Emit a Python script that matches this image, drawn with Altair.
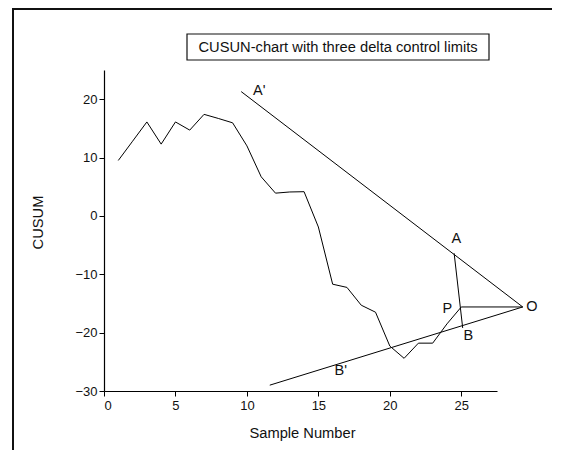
import altair as alt
import pandas as pd

# ---- data ----
sample = list(range(1, 26))
cusum = [9.5, 12.8, 16.1, 12.3, 16.1, 14.7, 17.4, 16.7, 15.95, 12.0,
         6.7, 3.9, 4.1, 4.15, -1.9, -11.7, -12.25, -15.3, -16.5, -22.3,
         -24.4, -21.8, -21.8, -18.5, -15.6]

# V-mask segments (start / end points)
seg_names = ["upper", "lower", "PO", "AB"]
seg_x1 = [9.6, 11.6, 25.0, 24.5]
seg_y1 = [21.3, -29.0, -15.6, -6.4]
seg_x2 = [29.3, 29.3, 29.3, 25.1]
seg_y2 = [-15.6, -15.6, -15.6, -19.2]

# point labels
lab_text = ["A'", "A", "B", "P", "O", "B'"]
lab_x = [10.86, 24.65, 25.5, 24.03, 29.95, 16.57]
lab_y = [21.4, -3.98, -20.5, -15.95, -15.6, -26.6]

x_ticks = [0, 2.5, 5, 7.5, 10, 12.5, 15, 17.5, 20, 22.5, 25, 27.5]
y_ticks = [-30, -25, -20, -15, -10, -5, 0, 5, 10, 15, 20, 25]

title_text = "CUSUN-chart with three delta control limits"
x_title = "Sample Number"
y_title = "CUSUM"

FONT = "Liberation Sans"

df_line = pd.DataFrame({"x": sample, "y": cusum})
rows = []
for n, a, b, c, d in zip(seg_names, seg_x1, seg_y1, seg_x2, seg_y2):
    rows.append({"seg": n, "x": a, "y": b, "o": 0})
    rows.append({"seg": n, "x": c, "y": d, "o": 1})
df_seg = pd.DataFrame(rows)
df_lab = pd.DataFrame({"t": lab_text, "x": lab_x, "y": lab_y})
one = pd.DataFrame({"a": [0]})

xscale = alt.Scale(domain=[0, 27.5], nice=False, zero=False)
yscale = alt.Scale(domain=[-30, 25], nice=False, zero=False)

xaxis = alt.Axis(
    values=x_ticks, grid=False, title=x_title,
    labelExpr="datum.value % 5 === 0 ? datum.label : ''",
    tickSize={"condition": {"test": "datum.value % 5 === 0", "value": 5}, "value": 3},
    labelPadding=3, titleX=198, titleY=42, titleBaseline="middle", titleAlign="center",
)
yaxis = alt.Axis(
    values=y_ticks, grid=False, title=y_title,
    labelExpr="datum.value % 10 === 0 ? datum.label : ''",
    tickSize={"condition": {"test": "datum.value % 10 === 0", "value": 5}, "value": 3},
    labelPadding=2, titleX=-66, titleY=152, titleBaseline="middle", titleAlign="center",
    titleAngle=-90,
)

# outer frame: only its top and left edges fall inside the picture (thin filled bars)
frame_top = alt.Chart(one).mark_rect(fill="#111", strokeWidth=0).encode(
    x=alt.value(-92), x2=alt.value(448), y=alt.value(-62), y2=alt.value(-60)
)
frame_left = alt.Chart(one).mark_rect(fill="#111", strokeWidth=0).encode(
    x=alt.value(-92), x2=alt.value(-90), y=alt.value(-62), y2=alt.value(380)
)
tbox = alt.Chart(one).mark_rect(fillOpacity=0, stroke="#111", strokeWidth=1.2).encode(
    x=alt.value(83), x2=alt.value(385), y=alt.value(-36), y2=alt.value(-10)
)
ttext = alt.Chart(one).mark_text(font=FONT, fontSize=14.7, color="#111",
                                 align="center", baseline="middle").encode(
    x=alt.value(234), y=alt.value(-22.5), text=alt.value(title_text)
)

line = alt.Chart(df_line).mark_line(color="#000", strokeWidth=1).encode(
    x=alt.X("x:Q", scale=xscale, axis=xaxis),
    y=alt.Y("y:Q", scale=yscale, axis=yaxis),
)
segs = alt.Chart(df_seg).mark_line(color="#000", strokeWidth=1).encode(
    x=alt.X("x:Q", scale=xscale),
    y=alt.Y("y:Q", scale=yscale),
    detail="seg:N",
    order="o:Q",
)
labels = alt.Chart(df_lab).mark_text(font=FONT, fontSize=14.5, color="#111",
                                     align="center", baseline="middle").encode(
    x=alt.X("x:Q", scale=xscale),
    y=alt.Y("y:Q", scale=yscale),
    text="t:N",
)

chart = alt.layer(frame_top, frame_left, tbox, ttext, line, segs, labels).properties(
    width=393, height=321,
    autosize=alt.AutoSizeParams(type="none"),
    padding={"left": 96, "top": 62, "right": 56, "bottom": 60},
).configure_view(stroke=None).configure_axis(
    domainColor="#000", tickColor="#000", labelColor="#111", titleColor="#111",
    labelFont=FONT, titleFont=FONT, labelFontSize=13, titleFontSize=14.7,
    titleFontWeight="normal", domainWidth=1.2, tickWidth=1,
)

chart.save("out.html", embed_options={"renderer": "svg", "actions": False})
